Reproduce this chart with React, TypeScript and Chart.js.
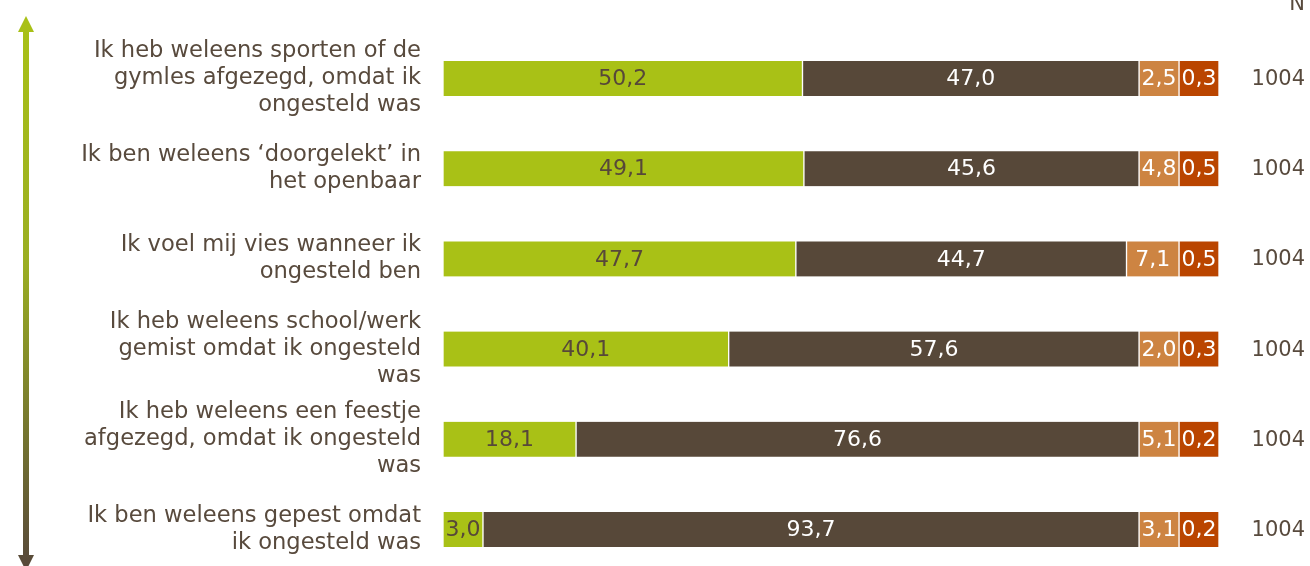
import React, { useEffect, useRef } from "react";
import { Chart, registerables } from "chart.js";

Chart.register(...registerables);

const categories: string[][] = [
  ["Ik heb weleens sporten of de", "gymles afgezegd, omdat ik", "ongesteld was"],
  ["Ik ben weleens ‘doorgelekt’ in", "het openbaar"],
  ["Ik voel mij vies wanneer ik", "ongesteld ben"],
  ["Ik heb weleens school/werk", "gemist omdat ik ongesteld", "was"],
  ["Ik heb weleens een feestje", "afgezegd, omdat ik ongesteld", "was"],
  ["Ik ben weleens gepest omdat", "ik ongesteld was"],
];

const seriesA = [50.2, 49.1, 47.7, 40.1, 18.1, 3.0];
const seriesB = [47.0, 45.6, 44.7, 57.6, 76.6, 93.7];
const seriesC = [2.5, 4.8, 7.1, 2.0, 5.1, 3.1];
const seriesD = [0.3, 0.5, 0.5, 0.3, 0.2, 0.2];
const nValues = [1004, 1004, 1004, 1004, 1004, 1004];

const seriesColors = ["#A9C116", "#574839", "#CD8442", "#BA4500"];
const labelColors = ["#574839", "#ffffff", "#ffffff", "#ffffff"];
const TEXT = "#584a3d";
const FONT = "DejaVu Sans";

// minimum displayed share of a segment (so small labels fit)
const MIN_SHARE = 5.15;

function displayRow(vals: number[]): number[] {
  let small = new Set<number>();
  for (let iter = 0; iter < 10; iter++) {
    const largeSum = vals.reduce((s, v, i) => (small.has(i) ? s : s + v), 0);
    const k = (100 - MIN_SHARE * small.size) / largeSum;
    let changed = false;
    vals.forEach((v, i) => {
      if (!small.has(i) && v * k < MIN_SHARE) {
        small.add(i);
        changed = true;
      }
    });
    if (!changed) {
      return vals.map((v, i) => (small.has(i) ? MIN_SHARE : v * k));
    }
  }
  return vals;
}

const raw = [seriesA, seriesB, seriesC, seriesD];
const displayed: number[][] = raw.map(() => []);
categories.forEach((_, r) => {
  const row = displayRow(raw.map((s) => s[r]));
  row.forEach((v, i) => displayed[i].push(v));
});

const fmt = (v: number) => v.toFixed(1).replace(".", ",");

const overlayPlugin = {
  id: "overlay",
  afterDatasetsDraw(chart: any) {
    const ctx = chart.ctx;
    ctx.save();
    ctx.font = `22px "${FONT}"`;
    ctx.textBaseline = "middle";
    ctx.textAlign = "center";
    chart.data.datasets.forEach((ds: any, di: number) => {
      const meta = chart.getDatasetMeta(di);
      meta.data.forEach((el: any, i: number) => {
        const cx = (el.x + el.base) / 2;
        ctx.fillStyle = labelColors[di];
        ctx.fillText(fmt(raw[di][i]), cx, el.y + 1);
      });
    });
    // N column
    const meta0 = chart.getDatasetMeta(0);
    ctx.font = `21px "${FONT}"`;
    ctx.fillStyle = TEXT;
    ctx.textAlign = "right";
    meta0.data.forEach((el: any, i: number) => {
      ctx.fillText(String(nValues[i]), 1305, el.y + 1);
    });
    ctx.textBaseline = "alphabetic";
    ctx.fillText("N", 1305, 10);

    // arrow
    const grad = ctx.createLinearGradient(0, 16, 0, 566);
    grad.addColorStop(0, "#A9C116");
    grad.addColorStop(0.45, "#9aae22");
    grad.addColorStop(1, "#574839");
    ctx.fillStyle = grad;
    ctx.fillRect(23, 31, 6, 525);
    ctx.beginPath();
    ctx.moveTo(26, 16);
    ctx.lineTo(34, 32);
    ctx.lineTo(18, 32);
    ctx.closePath();
    ctx.fill();
    ctx.beginPath();
    ctx.moveTo(18, 555);
    ctx.lineTo(34, 555);
    ctx.lineTo(26, 571);
    ctx.closePath();
    ctx.fill();
    ctx.restore();
  },
};

export default function App() {
  const ref = useRef<HTMLCanvasElement>(null);
  useEffect(() => {
    if (!ref.current) return;
    const chart = new Chart(ref.current, {
      type: "bar",
      data: {
        labels: categories,
        datasets: displayed.map((d, i) => ({
          label: "s" + i,
          data: d,
          backgroundColor: seriesColors[i],
          borderColor: "#ffffff",
          borderWidth: { left: 1, right: 1, top: 0, bottom: 0 },
          borderSkipped: false,
          barThickness: 35,
          clip: false as any,
        })),
      },
      options: {
        indexAxis: "y",
        animation: false,
        responsive: false,
        maintainAspectRatio: false,
        layout: { padding: { left: 0, right: 91, top: 78.5, bottom: 36.5 } },
        plugins: {
          legend: { display: false },
          tooltip: { enabled: false },
          title: { display: false },
        },
        scales: {
          x: { stacked: true, min: 0, max: 100, display: false },
          y: {
            stacked: true,
            offset: false,
            grid: { display: false, drawTicks: false },
            border: { display: false },
            ticks: {
              color: TEXT,
              padding: 22,
              font: { family: FONT, size: 22.6, lineHeight: 27 / 22.6 },
            },
            afterFit: (scale: any) => {
              scale.width = 443;
              scale.paddingTop = 0;
              scale.paddingBottom = 0;
            },
          },
        },
      },
      plugins: [overlayPlugin],
    });
    return () => chart.destroy();
  }, []);
  return (
    <div style={{ position: "fixed", left: 0, top: 0, width: 1310, height: 566, background: "#fff" }}>
      <canvas ref={ref} width={1310} height={566} style={{ display: "block" }} />
    </div>
  );
}
